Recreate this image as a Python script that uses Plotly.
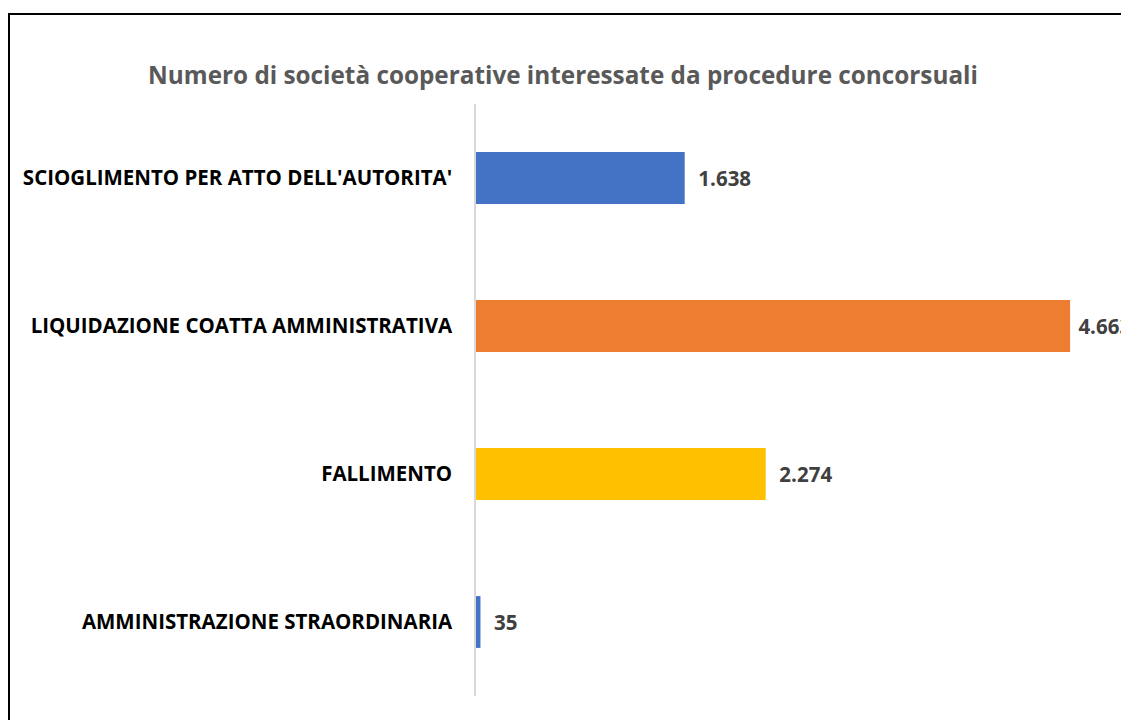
import plotly.graph_objects as go

categories = ["SCIOGLIMENTO PER ATTO DELL'AUTORITA'", "LIQUIDAZIONE COATTA AMMINISTRATIVA",
              "FALLIMENTO", "AMMINISTRAZIONE STRAORDINARIA"]
values = [1638, 4663, 2274, 35]
colors = ["#4472C4", "#ED7D31", "#FFC000", "#4472C4"]
title = "Numero di società cooperative interessate da procedure concorsuali"

# label templates (the long bar's label sits closer to its bar, as in the source)
label_templates = ["  %{x:,}", " %{x:,}", "  %{x:,}", "  %{x:,}"]

# page body has an 8px margin, so the figure is laid out in 1121x712
W, H = 1121, 712
L, R, T, B = 468, 0, 96, 24
pw = W - L - R
ph = H - T - B
px_per_unit = 0.1274
xmax = pw / px_per_unit
FONT = "Open Sans"

fig = go.Figure(go.Bar(
    y=categories, x=values, orientation="h",
    marker=dict(color=colors, line=dict(width=0)),
    width=0.35,
    texttemplate=label_templates, textposition="outside", cliponaxis=False,
    textfont=dict(family=FONT, size=20.5, color="#404040", weight="bold"),
))

fig.update_layout(
    width=W, height=H, margin=dict(l=L, r=R, t=T, b=B),
    paper_bgcolor="white", plot_bgcolor="white",
    separators=",.",
    showlegend=False,
    title=dict(text=title, x=555 / W, xanchor="center", y=1 - 67 / H, yanchor="middle",
               font=dict(family=FONT, size=24.3, color="#595959", weight="bold")),
    xaxis=dict(range=[0, xmax], visible=False),
    yaxis=dict(autorange="reversed", showline=True, linecolor="#D9D9D9", linewidth=1.5,
               showgrid=False, ticks="", ticklabelstandoff=18,
               tickfont=dict(family=FONT, size=20.5, color="#000000", weight="bold")),
    shapes=[dict(type="rect", xref="paper", yref="paper",
                 x0=(1 - L) / pw, x1=1.2, y0=-0.2, y1=(H - B - 6) / ph,
                 line=dict(color="black", width=2), fillcolor="rgba(0,0,0,0)", layer="above")],
)

fig.write_html("out.html")
